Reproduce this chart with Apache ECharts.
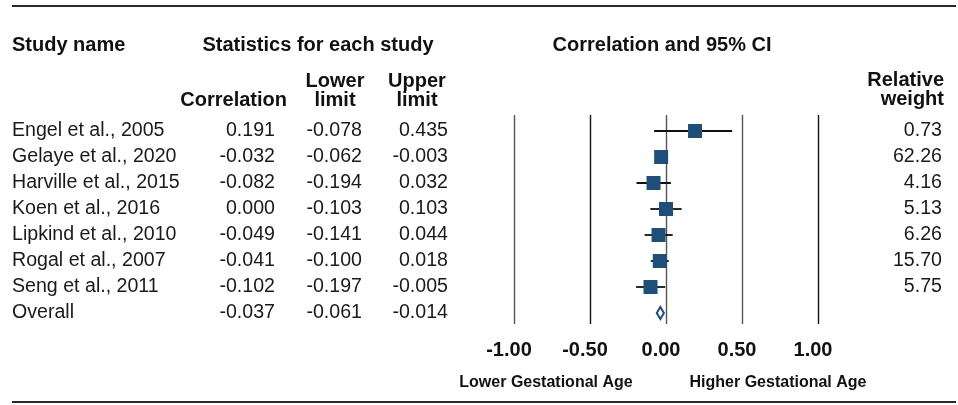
<!DOCTYPE html>
<html>
<head>
<meta charset="utf-8">
<script src="https://cdn.jsdelivr.net/npm/echarts@6/dist/echarts.min.js"></script>
<style>html,body{margin:0;padding:0;background:#fff;}#chart{width:958px;height:405px;}</style>
</head>
<body>
<div id="chart"></div>
<script>
// ---- data ----
const studies = ['Engel et al., 2005','Gelaye et al., 2020','Harville et al., 2015','Koen et al., 2016','Lipkind et al., 2010','Rogal et al., 2007','Seng et al., 2011'];
const correlation = [0.191, -0.032, -0.082, 0.000, -0.049, -0.041, -0.102];
const lowerLimit = [-0.078, -0.062, -0.194, -0.103, -0.141, -0.100, -0.197];
const upperLimit = [0.435, -0.003, 0.032, 0.103, 0.044, 0.018, -0.005];
const relativeWeight = [0.73, 62.26, 4.16, 5.13, 6.26, 15.70, 5.75];
const overallName = 'Overall';
const overall = [-0.037, -0.061, -0.014]; // correlation, lower, upper
const xTicks = [-1.00, -0.50, 0.00, 0.50, 1.00];

// ---- build ----
const FONT = "'Liberation Sans', Arial, sans-serif";
const rows = studies.concat([overallName]);
const corrCol = correlation.concat([overall[0]]).map(v => v.toFixed(3));
const lowCol = lowerLimit.concat([overall[1]]).map(v => v.toFixed(3));
const upCol = upperLimit.concat([overall[2]]).map(v => v.toFixed(3));
const wCol = relativeWeight.map(v => v.toFixed(2)).concat(['']);

const plotData = studies.map((s, i) => [correlation[i], i, lowerLimit[i], upperLimit[i], 0]);
plotData.push([overall[0], studies.length, overall[1], overall[2], 1]);

const GL = 514, GW = 304;
const DATA_FS = 19.6, HEAD_FS = 20;

function colAxis(data, margin, align, position) {
  return {
    type: 'category', gridIndex: 0, data: data, inverse: true, position: position,
    axisLine: {show: false}, axisTick: {show: false}, splitLine: {show: false},
    axisLabel: {show: true, interval: 0, margin: margin, align: align,
      fontFamily: FONT, fontSize: DATA_FS, color: '#1a1a1a'}
  };
}

function txt(x, y, text, align, opts) {
  opts = opts || {};
  return {
    type: 'text', x: x, y: y, silent: true,
    style: {
      text: text, fill: '#111', fontFamily: FONT,
      fontSize: opts.size || HEAD_FS, fontWeight: opts.weight || 'bold',
      lineHeight: opts.lh || 19,
      align: align, textAlign: align, verticalAlign: 'middle', textVerticalAlign: 'middle'
    }
  };
}

const chart = echarts.init(document.getElementById('chart'), null, {renderer: 'canvas'});
chart.setOption({
  animation: false,
  backgroundColor: '#fff',
  grid: [
    {left: GL, width: GW, top: 118, height: 208},
    {left: GL, width: GW, top: 115, height: 209}
  ],
  xAxis: [
    {type: 'value', gridIndex: 0, min: -1, max: 1, show: false},
    {type: 'value', gridIndex: 1, min: -1, max: 1, interval: 0.5,
      axisLine: {show: false}, axisTick: {show: false},
      axisLabel: {fontFamily: FONT, fontSize: 20, fontWeight: 'bold', color: '#111',
        margin: 16, padding: [0, 10, 0, 0],
        formatter: v => v.toFixed(2)},
      splitLine: {show: true, lineStyle: {color: ['#555', '#111', '#555', '#555', '#111'], width: 1.4}}
    }
  ],
  yAxis: [
    colAxis(rows, GL - 12, 'left', 'left'),
    colAxis(corrCol, GL - 275, 'right', 'left'),
    colAxis(lowCol, GL - 362, 'right', 'left'),
    colAxis(upCol, GL - 448, 'right', 'left'),
    colAxis(wCol, 942 - (GL + GW), 'right', 'right'),
    {type: 'value', gridIndex: 1, min: 0, max: 1, show: false}
  ],
  series: [{
    type: 'custom', xAxisIndex: 0, yAxisIndex: 0, clip: false,
    encode: {x: 0, y: 1},
    data: plotData,
    renderItem: function (params, api) {
      const y = api.value(1);
      const c = api.coord([api.value(0), y]);
      const l = api.coord([api.value(2), y]);
      const h = api.coord([api.value(3), y]);
      if (api.value(4)) {
        return {type: 'polygon',
          shape: {points: [[l[0], c[1]], [c[0], c[1] - 6], [h[0], c[1]], [c[0], c[1] + 6]]},
          style: {fill: '#fff', stroke: '#1f4e79', lineWidth: 2}};
      }
      return {type: 'group', children: [
        {type: 'line', shape: {x1: l[0], y1: c[1], x2: h[0], y2: c[1]}, style: {stroke: '#111', lineWidth: 1.8}},
        {type: 'rect', shape: {x: c[0] - 7, y: c[1] - 7, width: 14, height: 14}, style: {fill: '#1f4e79'}}
      ]};
    }
  }],
  graphic: [
    {type: 'line', silent: true, shape: {x1: 12, y1: 6, x2: 956, y2: 6}, style: {stroke: '#2a2a2a', lineWidth: 2}},
    {type: 'line', silent: true, shape: {x1: 12, y1: 402, x2: 956, y2: 402}, style: {stroke: '#2a2a2a', lineWidth: 2}},
    txt(12, 45, 'Study name', 'left'),
    txt(318, 45, 'Statistics for each study', 'center'),
    txt(662, 45, 'Correlation and 95% CI', 'center'),
    txt(287, 100, 'Correlation', 'right'),
    txt(335, 91, 'Lower\nlimit', 'center'),
    txt(417, 91, 'Upper\nlimit', 'center'),
    txt(944, 90, 'Relative\nweight', 'right'),
    txt(546, 383, 'Lower Gestational Age', 'center', {size: 16}),
    txt(778, 383, 'Higher Gestational Age', 'center', {size: 16})
  ]
});
</script>
</body>
</html>
